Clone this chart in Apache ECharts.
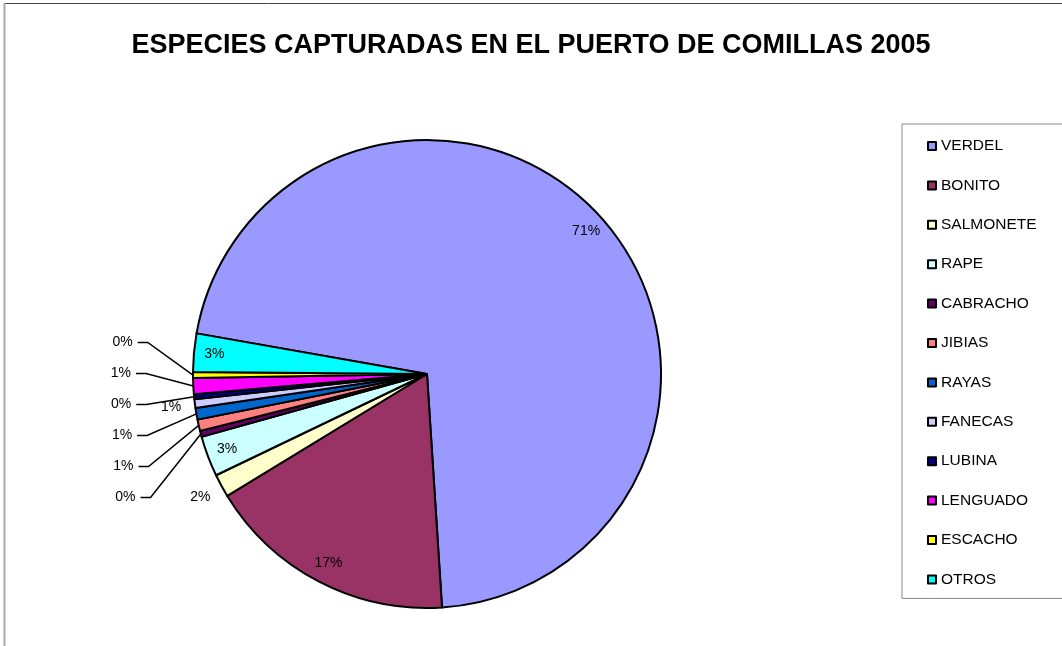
<!DOCTYPE html>
<html><head><meta charset="utf-8">
<script src="https://cdn.jsdelivr.net/npm/echarts@6/dist/echarts.min.js"></script>
<style>html,body{margin:0;padding:0;background:#fff}#chart{width:1062px;height:646px}</style>
</head><body><div id="chart"></div>
<script>
const chartTitle = 'ESPECIES CAPTURADAS EN EL PUERTO DE COMILLAS 2005';
const species = ['VERDEL','BONITO','SALMONETE','RAPE','CABRACHO','JIBIAS','RAYAS','FANECAS','LUBINA','LENGUADO','ESCACHO','OTROS'];
const shares = [71.2, 17.3, 1.6, 2.8, 0.4, 0.8, 0.8, 0.6, 0.35, 1.1, 0.4, 2.65];
const colors = ['#9999FF','#993366','#FFFFCC','#CCFFFF','#660066','#FF8080','#0066CC','#CCCCFF','#000080','#FF00FF','#FFFF00','#00FFFF'];
const innerLabelled = ['VERDEL','BONITO','RAPE','OTROS'];
const nearLabelled = ['SALMONETE','FANECAS'];

const total = shares.reduce((a, b) => a + b, 0);
const pct = v => Math.round(v / total * 100) + '%';
const FONT = '"Liberation Sans", Arial, sans-serif';
const CENTER = [427, 374];
const R = 234;
const START = 170;

const mainData = species.map((name, i) => {
  const item = { name, value: shares[i], itemStyle: { color: colors[i] } };
  if (innerLabelled.includes(name) || nearLabelled.includes(name)) {
    item.label = { show: false };
    item.labelLine = { show: false };
  }
  return item;
});

const labelSet = (list) => species.map((name, i) => ({
  name, value: shares[i],
  label: { show: list.includes(name) }
}));

const labelSeries = (radius, list) => ({
  type: 'pie',
  center: CENTER,
  radius: radius,
  startAngle: START,
  clockwise: true,
  silent: true,
  z: 3,
  itemStyle: { color: 'rgba(0,0,0,0)', borderWidth: 0 },
  label: {
    position: 'inside',
    formatter: p => pct(p.value),
    fontFamily: FONT, fontSize: 14, color: '#000'
  },
  labelLine: { show: false },
  emphasis: { disabled: true },
  data: labelSet(list)
});

const chart = echarts.init(document.getElementById('chart'), null, { renderer: 'canvas' });
chart.setOption({
  animation: false,
  backgroundColor: '#fff',
  color: colors,
  title: {
    text: chartTitle,
    left: 'center',
    top: 27,
    padding: [5, 0, 5, 8],
    textStyle: { fontFamily: FONT, fontSize: 27, fontWeight: 'bold', color: '#000' }
  },
  legend: {
    orient: 'vertical',
    left: 902,
    top: 124,
    data: species,
    icon: 'rect',
    itemWidth: 8,
    itemHeight: 8,
    itemGap: 23.4,
    padding: [14, 30, 11, 25],
    borderColor: '#888',
    borderWidth: 1,
    itemStyle: { borderColor: '#000', borderWidth: 2 },
    textStyle: { fontFamily: FONT, fontSize: 15.5, color: '#000', lineHeight: 15 }
  },
  graphic: [
    { type: 'line', shape: { x1: 4, y1: 3.5, x2: 1062, y2: 3.5 }, style: { stroke: '#444', lineWidth: 1 } },
    { type: 'line', shape: { x1: 4.5, y1: 3, x2: 4.5, y2: 646 }, style: { stroke: '#aaa', lineWidth: 2 } }
  ],
  series: [
    {
      type: 'pie',
      left: 0, top: 0, width: 1062, height: 513,
      center: CENTER,
      radius: R,
      startAngle: START,
      clockwise: true,
      avoidLabelOverlap: true,
      itemStyle: { borderColor: '#000', borderWidth: 2 },
      label: {
        show: true, position: 'outside',
        formatter: p => pct(p.value),
        fontFamily: FONT, fontSize: 14, color: '#000', lineHeight: 29
      },
      labelLine: { show: true, length: 52, length2: 10, lineStyle: { color: '#000', width: 1.5 } },
      emphasis: { disabled: true },
      data: mainData
    },
    labelSeries(R * 1.8, innerLabelled),
    labelSeries(R * 2.18, nearLabelled)
  ]
});
</script></body></html>
